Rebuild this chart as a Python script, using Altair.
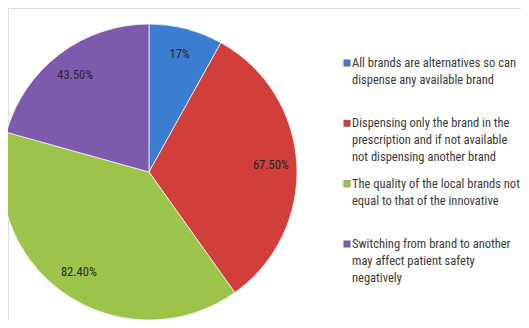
import altair as alt
import pandas as pd

categories = [
    "All brands are alternatives so can dispense any available brand",
    "Dispensing only the brand in the prescription and if not available not dispensing another brand",
    "The quality of the local brands not equal to that of the innovative",
    "Switching from brand to another may affect patient safety negatively",
]
legend_lines = [
    ["All brands are alternatives so can", "dispense any available brand"],
    ["Dispensing only the brand in the", "prescription and if not available", "not dispensing another brand"],
    ["The quality of the local brands not", "equal to that of the innovative"],
    ["Switching from brand to another", "may affect patient safety", "negatively"],
]
values = [17, 67.5, 82.4, 43.5]
value_labels = ["17%", "67.50%", "82.40%", "43.50%"]
colors = ["#3B7DD1", "#D23F3A", "#9CC44A", "#7E5AAF"]

FONT = "Liberation Sans Narrow, Roboto Condensed, Lato, sans-serif"

pie_df = pd.DataFrame({
    "cat": categories,
    "value": values,
    "label": value_labels,
    "idx": list(range(len(categories))),
})
leg_df = pd.DataFrame({
    "cat": categories,
    "lines": legend_lines,
})

color_scale = alt.Scale(domain=categories, range=colors)
cx, cy = 141, 164
R = 148

arcs = alt.Chart(pie_df).mark_arc(
    outerRadius=R, stroke="#f4f4f4", strokeWidth=0.8
).encode(
    theta=alt.Theta("value:Q", stack=True),
    color=alt.Color("cat:N", scale=color_scale, legend=None),
    order=alt.Order("idx:Q"),
    x=alt.value(cx),
    y=alt.value(cy),
)

labels = alt.Chart(pie_df).mark_text(
    radius=122, font=FONT, fontSize=12.5, color="#262626"
).encode(
    theta=alt.Theta("value:Q", stack=True),
    order=alt.Order("idx:Q"),
    text="label:N",
    x=alt.value(cx),
    y=alt.value(cy),
)

y_leg = alt.Y("cat:N", scale=alt.Scale(domain=categories, range=[55, 236], padding=0), axis=None)

squares = alt.Chart(leg_df).mark_point(
    shape="square", filled=True, size=42, opacity=1, stroke="#555555", strokeWidth=0.4
).encode(
    x=alt.value(339),
    y=y_leg,
    color=alt.Color("cat:N", scale=color_scale, legend=None),
)

leg_text = alt.Chart(leg_df).mark_text(
    align="left", baseline="alphabetic", dy=4, font=FONT, fontSize=12.5,
    lineHeight=17, color="#3a3a3a"
).encode(
    x=alt.value(344),
    y=y_leg,
    text="lines",
)

chart = alt.layer(arcs, labels, squares, leg_text).properties(
    width=513, height=312, padding=0, autosize=alt.AutoSizeParams(type="none")
).configure_view(stroke=None).configure(background="white")

chart.save("out.html", embed_options={"renderer": "svg", "actions": False})
